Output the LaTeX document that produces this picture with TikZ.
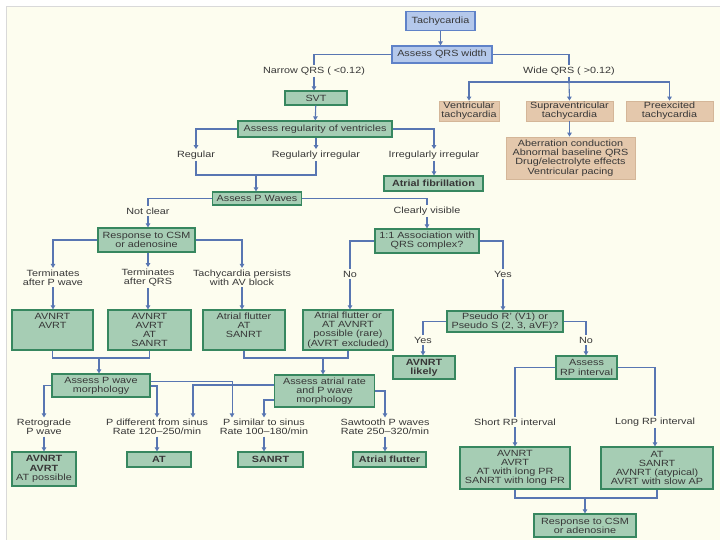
\documentclass[tikz,border=0pt]{standalone}
\usepackage{fontspec}
\setmainfont{Liberation Sans}[FakeStretch=1.2]
\usetikzlibrary{arrows.meta,calc}
\definecolor{cream}{HTML}{FDFDEF}
\definecolor{bfill}{RGB}{180,200,235}
\definecolor{bdraw}{RGB}{95,130,200}
\definecolor{gfill}{RGB}{166,205,180}
\definecolor{gdraw}{RGB}{55,135,95}
\definecolor{tfill}{RGB}{228,200,172}
\definecolor{tdraw}{RGB}{212,182,152}
\definecolor{lnc}{RGB}{88,118,178}
\definecolor{txt}{RGB}{55,55,55}
\begin{document}
\begin{tikzpicture}[x=1pt,y=-1pt,
  base/.style={rectangle, align=center, inner sep=0pt, text=txt, font=\fontsize{9}{9.2}\selectfont},
  bluebox/.style={base, fill=bfill, draw=bdraw, line width=1.2pt},
  greenbox/.style={base, fill=gfill, draw=gdraw, line width=1.2pt},
  tanbox/.style={base, fill=tfill, draw=tdraw, line width=0.8pt},
  lbl/.style={base, inner sep=1.5pt},
  ln/.style={draw=lnc, line width=1.1pt},
  arr/.style={ln, -{Triangle[length=4pt,width=4.5pt]}}]
\useasboundingbox (0,0) rectangle (720,540);
\fill[white] (0,0) rectangle (720,540);
\fill[cream] (6,6) rectangle (720,540);
\draw[black!15, line width=0.8pt] (6,540) -- (6,6) -- (720,6);

% ---- top
\node[bluebox, minimum width=69pt, minimum height=19pt] (tachy) at (440.5,21) {Tachycardia};
\node[bluebox, minimum width=100pt, minimum height=17pt] (qrs) at (442,54.5) {Assess QRS width};
\node[lbl] (narrow) at (314,71) {Narrow QRS ( <0.12)};
\node[lbl] (wide) at (569,71) {Wide QRS ( >0.12)};

% ---- tan
\node[tanbox, minimum width=60pt, minimum height=20pt] (vt) at (469,111) {Ventricular\\tachycardia};
\node[tanbox, minimum width=87pt, minimum height=20pt] (svtan) at (569.5,111) {Supraventricular\\tachycardia};
\node[tanbox, minimum width=87pt, minimum height=20pt] (pre) at (669.5,111) {Preexcited\\tachycardia};
\node[tanbox, minimum width=129pt, minimum height=42pt] (aber) at (570.5,158) {Aberration conduction\\Abnormal baseline QRS\\Drug/electrolyte effects\\Ventricular pacing};
\coordinate (br) at (569,82);

% ---- narrow branch
\node[greenbox, minimum width=62pt, minimum height=14pt] (svt) at (316,98) {SVT};
\node[greenbox, minimum width=154pt, minimum height=16pt] (reg) at (315,129) {Assess regularity of ventricles};
\node[lbl] (regular) at (196,155) {Regular};
\node[lbl] (regirr) at (316,155) {Regularly irregular};
\node[lbl] (irrirr) at (434,155) {Irregularly irregular};
\node[greenbox, minimum width=99pt, minimum height=15pt] (af) at (433.5,183.5) {\textbf{Atrial fibrillation}};
\coordinate (j1) at (256,175);
\node[greenbox, minimum width=89pt, minimum height=13pt] (pw) at (257,198.5) {Assess P Waves};
\node[lbl] (notclear) at (148,211) {Not clear};
\node[lbl] (clear) at (427,211) {Clearly visible};

\node[greenbox, minimum width=97pt, minimum height=24pt] (csm1) at (146.5,240) {Response to CSM\\or adenosine};
\node[greenbox, minimum width=104pt, minimum height=24pt] (assoc) at (427,241) {1:1 Association with\\QRS complex?};

\node[lbl] (tp) at (53,277.5) {Terminates\\after P wave};
\node[lbl] (tq) at (148,277.5) {Terminates\\after QRS};
\node[lbl] (tav) at (242,277.5) {Tachycardia persists\\with AV block};
\node[lbl] (no) at (350,274) {No};
\node[lbl] (yes) at (503,274) {Yes};

\node[greenbox, minimum width=81pt, minimum height=40pt] (b1) at (52.5,330) {AVNRT\\AVRT\\\phantom{A}\\\phantom{A}};
\node[greenbox, minimum width=83pt, minimum height=40pt] (b2) at (149.5,330) {AVNRT\\AVRT\\AT\\SANRT};
\node[greenbox, minimum width=82pt, minimum height=40pt] (b3) at (244,330) {Atrial flutter\\AT\\SANRT\\\phantom{A}};
\node[greenbox, minimum width=90pt, minimum height=40pt] (b4) at (348,330) {Atrial flutter or\\AT AVNRT\\possible (rare)\\(AVRT excluded)};

\node[greenbox, minimum width=116pt, minimum height=21pt] (pseudo) at (505,321.5) {Pseudo R' (V1) or\\Pseudo S (2, 3, aVF)?};
\node[lbl] (yes2) at (423,340) {Yes};
\node[lbl] (no2) at (586,340) {No};
\node[greenbox, minimum width=62pt, minimum height=23pt] (avl) at (424,367.5) {\textbf{AVNRT}\\\textbf{likely}};
\node[greenbox, minimum width=61pt, minimum height=23pt] (rp) at (586.5,367.5) {Assess\\RP interval};
\node[lbl] (short) at (515,422) {Short RP interval};
\node[lbl] (long) at (655,422) {Long RP interval};
\node[greenbox, minimum width=110pt, minimum height=42pt] (sbox) at (515,468) {AVNRT\\AVRT\\AT with long PR\\SANRT with long PR};
\node[greenbox, minimum width=112pt, minimum height=42pt] (lbox) at (657,468) {AT\\SANRT\\AVNRT (atypical)\\AVRT with slow AP};
\coordinate (j5) at (585,498);
\node[greenbox, minimum width=102pt, minimum height=23pt] (csm2) at (585,525.5) {Response to CSM\\or adenosine};

% ---- lower left
\coordinate (j3) at (99,358);
\coordinate (j4) at (323,358);
\node[greenbox, minimum width=98pt, minimum height=23pt] (pwm) at (101,385.5) {Assess P wave\\morphology};
\node[greenbox, minimum width=100pt, minimum height=32pt] (arm) at (324.5,391) {Assess atrial rate\\and P wave\\morphology};
\node[lbl] (retro) at (44,427) {Retrograde\\P wave};
\node[lbl] (pdiff) at (157,427) {P different from sinus\\Rate 120–250/min};
\node[lbl] (psim) at (264,427) {P similar to sinus\\Rate 100–180/min};
\node[lbl] (saw) at (385,427) {Sawtooth P waves\\Rate 250–320/min};
\node[greenbox, minimum width=64pt, minimum height=34pt] (bl) at (44,469) {\textbf{AVNRT}\\\textbf{AVRT}\\AT possible};
\node[greenbox, minimum width=64pt, minimum height=15pt] (at) at (159,459.5) {\textbf{AT}};
\node[greenbox, minimum width=65pt, minimum height=15pt] (san) at (270.5,459.5) {\textbf{SANRT}};
\node[greenbox, minimum width=73pt, minimum height=15pt] (afl) at (389.5,459.5) {\textbf{Atrial flutter}};

% ---- connectors
\draw[arr] (tachy.south) -- (tachy.south |- qrs.north);
\draw[ln] (qrs.west) -| (narrow.north);
\draw[arr] (narrow.south) -- (narrow.south |- svt.north);
\draw[ln] (qrs.east) -| (wide.north);
\draw[ln] (wide.south) -- (br);
\draw[arr] (br) -| (vt.north);
\draw[arr] (br) -| (pre.north);
\draw[arr] (br) -- (svtan.north);
\draw[arr] (svtan.south) -- (svtan.south |- aber.north);

\draw[arr] (svt) -- (reg);
\draw[arr] (reg.west) -| (regular.north);
\draw[arr] (reg.south -| regirr.north) -- (regirr.north);
\draw[arr] (reg.east) -| (irrirr.north);
\draw[arr] (irrirr.south) -- (irrirr.south |- af.north);
\draw[ln] (regular.south) |- (j1) -| (regirr.south);
\draw[arr] (j1) -- (j1 |- pw.north);
\draw[ln] (pw.west) -| (notclear.north);
\draw[ln] (pw.east) -| (clear.north);
\draw[arr] (notclear.south) -- (notclear.south |- csm1.north);
\draw[arr] (clear.south) -- (clear.south |- assoc.north);

\draw[arr] (csm1.west) -| (tp.north);
\draw[arr] (csm1.south -| tq.north) -- (tq.north);
\draw[arr] (csm1.east) -| (tav.north);
\draw[arr] (tp.south) -- (tp.south |- b1.north);
\draw[arr] (tq.south) -- (tq.south |- b2.north);
\draw[arr] (tav.south) -- (tav.south |- b3.north);
\draw[ln] (assoc.west) -| (no.north);
\draw[arr] (no.south) -- (no.south |- b4.north);
\draw[ln] (assoc.east) -| (yes.north);
\draw[arr] (yes.south) -- (yes.south |- pseudo.north);

\draw[ln] (pseudo.west) -| (yes2.north);
\draw[arr] (yes2.south) -- (yes2.south |- avl.north);
\draw[ln] (pseudo.east) -| (no2.north);
\draw[arr] (no2.south) -- (no2.south |- rp.north);
\draw[ln] (rp.west) -| (short.north);
\draw[arr] (short.south) -- (short.south |- sbox.north);
\draw[ln] (rp.east) -| (long.north);
\draw[arr] (long.south) -- (long.south |- lbox.north);
\draw[ln] (sbox.south) |- (j5) -| (lbox.south);
\draw[arr] (j5) -- (csm2.north);

\draw[ln] (b1.south) |- (j3) -| (b2.south);
\draw[arr] (j3) -- (j3 |- pwm.north);
\draw[ln] (b3.south) |- (j4) -| (b4.south);
\draw[arr] (j4) -- (j4 |- arm.north);

\draw[arr] (pwm.west) -| (retro.north);
\draw[arr] ([yshift=-0.5pt]pwm.east) -| (pdiff.north);
\draw[arr, line width=0.8pt] ([yshift=4.5pt]pwm.east) -| ([xshift=-32pt]psim.north);
\draw[arr] ([yshift=6pt]arm.west) -| ([xshift=36pt]pdiff.north);
\draw[arr] ([yshift=-9pt]arm.west) -| (psim.north);
\draw[arr] (arm.east) -| (saw.north);
\draw[arr] (retro.south) -- (retro.south |- bl.north);
\draw[arr] (pdiff.south) -- (pdiff.south |- at.north);
\draw[arr] (psim.south) -- (psim.south |- san.north);
\draw[arr] (saw.south) -- (saw.south |- afl.north);
\end{tikzpicture}
\end{document}
